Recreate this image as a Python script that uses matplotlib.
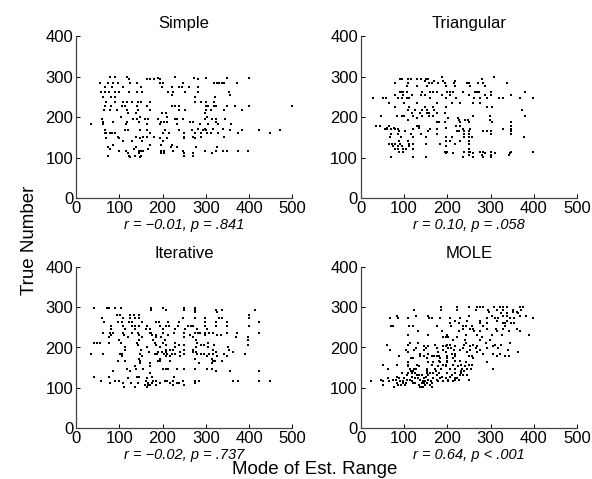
import matplotlib
matplotlib.use("Agg")
import matplotlib.pyplot as plt

plt.rcParams['font.family'] = ['Liberation Sans', 'DejaVu Sans']

titles = ["Simple", "Triangular", "Iterative", "MOLE"]
stats = ["r = \u22120.01, p = .841", "r = 0.10, p = .058",
         "r = \u22120.02, p = .737", "r = 0.64, p < .001"]
x_ticks = [0, 100, 200, 300, 400, 500]
y_ticks = [0, 100, 200, 300, 400]

simple_pts = [
    (79,300),(90,300),(119,300),(189,297),(230,298),(273,296),(300,296),(350,296),(400,297),
    (122,293),(164,293),(170,293),(180,293),(194,293),(281,293),
    (55,283),(75,283),(85,283),(96,283),(125,283),(140,283),(195,283),(200,283),(248,283),
    (319,283),(325,283),(331,283),(337,283),(343,283),(373,283),
    (68,275),(84,275),(109,275),(150,275),(199,275),(222,275),(238,275),(244,275),(262,275),(282,275),
    (57,263),(67,263),(77,263),(90,263),(100,263),(123,263),(140,263),(152,263),(212,263),(225,263),
    (251,263),(282,263),(354,263),
    (223,255),(356,255),
    (63,250),(82,250),(89,250),(276,250),(322,250),
    (69,238),(90,238),(109,238),(119,238),(129,238),(143,238),(150,238),(171,238),(274,238),(290,238),
    (300,238),(318,238),
    (66,227),(81,227),(107,227),(114,227),(140,227),(165,227),(222,227),(230,227),(237,227),(300,227),
    (306,227),(319,227),(323,227),(350,227),(368,227),(400,227),(500,227),
    (64,218),(79,218),(94,218),(119,218),(143,218),(171,218),(237,218),(253,218),(300,218),(312,218),
    (343,218),(384,218),
    (120,210),(139,210),(198,210),(207,210),(298,210),
    (103,200),(148,200),(210,200),(302,200),
    (61,195),(131,195),(141,195),(160,195),(167,195),(189,195),(228,195),(233,195),(248,195),(299,195),
    (314,195),(324,195),(344,195),
    (63,189),(86,189),(119,189),(146,189),(196,189),(203,189),(210,189),(263,189),(271,189),(323,189),
    (34,182),(62,182),(115,182),(163,182),(194,182),(234,182),(286,182),(304,182),(329,182),(359,182),
    (283,172),(298,172),(317,172),(340,172),
    (66,168),(114,168),(121,168),(147,168),(164,168),(206,168),(237,168),(267,168),(294,168),(300,168),
    (355,168),(384,168),(423,168),(472,168),
    (66,160),(69,160),(79,160),(84,160),(90,160),(172,160),(201,160),(215,160),(250,160),(275,160),
    (289,160),(303,160),(313,160),(328,160),(374,160),(449,160),
    (98,152),(139,152),(154,152),(163,152),(181,152),(250,152),(271,152),(290,152),(343,152),
    (69,148),(100,148),(148,148),(194,148),(210,148),(250,148),(275,148),
    (108,140),(129,140),(153,140),(200,140),
    (86,131),(171,131),(196,131),(223,131),
    (75,127),(138,127),(219,127),(234,127),(277,127),(327,127),
    (79,121),(135,121),(166,121),
    (99,117),(115,117),(145,117),(150,117),(156,117),(196,117),(203,117),(225,117),(248,117),(299,117),
    (323,117),(340,117),(348,117),(374,117),(398,117),
    (121,111),(145,111),(196,111),(203,111),(250,111),(270,111),(314,111),
    (75,105),(123,105),(136,105),(150,105),(250,105),(271,105),
    (125,101),(148,101),
]

triangular_pts = [
    (188,300),(308,300),
    (91,295),(95,295),(110,295),(115,295),(129,295),(139,295),(151,295),(155,295),(279,295),
    (148,290),(170,290),(191,290),(218,290),
    (79,283),(110,283),(158,283),(165,283),(179,283),(194,283),(216,283),(245,283),(251,283),
    (270,283),(283,283),(338,283),
    (108,276),(129,276),(152,276),(196,276),(218,276),(252,276),(288,276),
    (91,263),(95,263),(98,263),(108,263),(142,263),(160,263),(168,263),(177,263),(200,263),(207,263),
    (214,263),(237,263),(264,263),(269,263),(274,263),(300,263),(379,263),
    (79,255),(97,255),(118,255),(140,255),(148,255),(187,255),(205,255),(249,255),(288,255),(300,255),
    (348,255),
    (29,247),(51,247),(58,247),(87,247),(95,247),(106,247),(112,247),(160,247),(197,247),(220,247),
    (262,247),(275,247),(291,247),(320,247),(329,247),(368,247),(398,247),
    (65,236),(101,236),(129,236),(175,236),(210,236),(229,236),(259,236),(275,236),
    (79,226),(111,226),(148,226),(168,226),(196,226),(291,226),(302,226),
    (110,218),(126,218),(141,218),(152,218),(170,218),(372,218),
    (118,210),(137,210),(152,210),(158,210),(175,210),(194,210),
    (46,203),(83,203),(95,203),(100,203),(120,203),(141,203),(158,203),(168,203),(260,203),(298,203),
    (379,203),
    (129,198),(201,198),(225,198),
    (110,192),(227,192),(240,192),(247,192),(298,192),
    (175,187),(181,187),(194,187),(229,187),(249,187),(302,187),(348,187),
    (35,178),(45,178),(66,178),(131,178),(135,178),(220,178),(229,178),(348,178),
    (60,174),(77,174),(135,174),(196,174),
    (56,170),(61,170),(69,170),(79,170),(87,170),(120,170),(160,170),(175,170),(237,170),(252,170),
    (329,170),(348,170),
    (89,166),(102,166),(155,166),(222,166),(228,166),(238,166),(249,166),(283,166),(291,166),(300,166),
    (348,166),
    (69,158),(85,158),(117,158),(139,158),(175,158),(238,158),(249,158),(300,158),(348,158),
    (68,150),(93,150),(120,150),(151,150),(196,150),(210,150),(238,150),(249,150),(258,150),(377,150),
    (89,142),(110,142),(196,142),(206,142),(229,142),(249,142),
    (65,134),(72,134),(79,134),(91,134),(112,134),(120,134),(151,134),(183,134),(218,134),(249,134),
    (75,128),(87,128),(95,128),(112,128),(196,128),
    (79,122),(85,122),(98,122),(105,122),(120,122),(249,122),
    (89,115),(98,115),(194,115),(200,115),(238,115),(249,115),(253,115),(275,115),(283,115),(300,115),
    (348,115),(398,115),
    (196,111),(214,111),(260,111),(287,111),(310,111),(344,111),
    (249,107),(279,107),(300,107),(343,107),
    (69,102),(120,102),(150,102),(237,102),(260,102),(283,102),(300,102),
]

iterative_pts = [
    (42,298),(71,298),(77,298),(90,298),(104,298),(174,298),(200,298),(250,298),(275,298),
    (174,293),(209,293),(250,293),(275,293),(323,293),(338,293),(414,293),
    (275,288),(327,288),
    (94,280),(102,280),(125,280),(133,280),(145,280),(399,280),
    (59,273),(109,273),(125,273),(137,273),(145,273),(248,273),(275,273),(299,273),(331,273),(337,273),
    (399,273),
    (65,263),(98,263),(106,263),(123,263),(129,263),(152,263),(186,263),(191,263),(213,263),(238,263),
    (299,263),(323,263),(348,263),(424,263),
    (82,253),(109,253),(129,253),(137,253),(145,253),(165,253),(194,253),(208,253),(215,253),(236,253),
    (260,253),(265,253),(271,253),(299,253),(323,253),(348,253),(399,253),
    (80,247),(113,247),(137,247),(162,247),(171,247),(200,247),(229,247),(252,247),(279,247),(302,247),
    (62,237),(79,237),(86,237),(109,237),(129,237),(144,237),(170,237),(173,237),(202,237),(227,237),
    (250,237),(275,237),(281,237),(287,237),(299,237),(307,237),(317,237),(348,237),(373,237),(424,237),
    (81,230),(111,230),(145,230),(175,230),(185,230),(213,230),(263,230),(299,230),(325,230),(335,230),
    (77,225),(121,225),(152,225),(186,225),(196,225),(250,225),(271,225),(371,225),(398,225),
    (100,218),(146,218),(179,218),(206,218),(277,218),(398,218),
    (41,212),(48,212),(55,212),(77,212),(103,212),(140,212),(183,212),(202,212),(228,212),(279,212),
    (306,212),
    (144,206),(186,206),(208,206),(238,206),(250,206),(290,206),(296,206),(320,206),(398,206),
    (114,200),(165,200),(194,200),(228,200),(277,200),(306,200),(352,200),
    (113,193),(150,193),(208,193),(217,193),(225,193),(250,193),(271,193),(317,193),(354,193),
    (168,188),(190,188),(198,188),(208,188),(240,188),(270,188),(277,188),(323,188),(362,188),
    (34,184),(63,184),(102,184),(107,184),(148,184),(182,184),(188,184),(204,184),(211,184),(221,184),
    (229,184),(250,184),(280,184),(290,184),(296,184),(307,184),(317,184),(343,184),(390,184),
    (107,178),(153,178),(208,178),(217,178),(240,178),(302,178),(325,178),(350,178),
    (145,172),(194,172),(275,172),(314,172),
    (98,167),(113,167),(148,167),(189,167),(194,167),(217,167),(316,167),(321,167),(338,167),
    (149,162),(170,162),(285,162),(314,162),
    (137,153),(170,153),
    (117,148),(139,148),(154,148),(200,148),(208,148),(213,148),(234,148),(250,148),(275,148),(302,148),
    (314,148),
    (86,142),(125,142),(323,142),(355,142),(424,142),
    (171,136),
    (42,128),(77,128),(140,128),(146,128),(175,128),(227,128),
    (121,124),(165,124),
    (57,116),(90,116),(100,116),(162,116),(177,116),(186,116),(206,116),(211,116),(225,116),(248,116),
    (275,116),(285,116),(364,116),(375,116),(424,116),(448,116),
    (79,111),(109,111),(126,111),(144,111),(167,111),(175,111),(194,111),(217,111),(234,111),(239,111),
    (275,111),
    (160,106),(167,106),(171,106),(186,106),(225,106),(250,106),
    (111,102),(137,102),(165,102),
]

mole_pts = [
    (185,300),(222,300),(249,300),(269,300),(275,300),(282,300),(308,300),(322,300),(329,300),(337,300),
    (368,300),(374,300),
    (123,294),(185,294),(222,294),(266,294),(295,294),(314,294),(329,294),(351,294),(371,294),
    (297,288),(352,288),(360,288),
    (325,285),(337,285),(364,285),
    (83,279),(128,279),(156,279),(249,279),(302,279),(329,279),(337,279),(368,279),(381,279),
    (68,273),(87,273),(110,273),(158,273),(164,273),(183,273),(206,273),(229,273),(291,273),(310,273),
    (318,273),(345,273),(354,273),(398,273),
    (218,266),(245,266),(275,266),(314,266),(337,266),
    (206,260),(228,260),(275,260),(292,260),(328,260),(333,260),(346,260),(355,260),
    (69,254),(75,254),(112,254),(120,254),(175,254),(208,254),(235,254),(243,254),(256,254),(283,254),
    (333,254),
    (237,247),(252,247),(260,247),(291,247),(312,247),(329,247),(360,247),
    (133,241),(188,241),(228,241),(262,241),(275,241),(314,241),(343,241),(368,241),
    (110,231),(156,231),(199,231),(243,231),(268,231),(302,231),(327,231),(389,231),
    (190,227),(196,227),(202,227),(222,227),(280,227),
    (214,218),(241,218),(275,218),(298,218),
    (114,212),(132,212),(243,212),(289,212),(345,212),
    (60,207),(110,207),(172,207),(199,207),(205,207),(238,207),(260,207),(310,207),(325,207),
    (145,203),(155,203),(190,203),(197,203),(218,203),(252,203),(268,203),(306,203),
    (128,198),(150,198),(175,198),(202,198),(208,198),(237,198),(266,198),(291,198),(318,198),
    (68,193),(105,193),(122,193),(146,193),(190,193),(215,193),(229,193),(252,193),(275,193),(341,193),
    (110,188),(179,188),(197,188),(245,188),(269,188),(364,188),
    (137,183),(156,183),(210,183),(218,183),(283,183),(306,183),(322,183),
    (89,180),(137,180),(145,180),(164,180),(170,180),(175,180),(180,180),(199,180),(218,180),(249,180),
    (258,180),(314,180),(333,180),(343,180),
    (115,173),(120,173),(152,173),(183,173),(200,173),(214,173),(260,173),
    (181,167),(200,167),(218,167),(229,167),
    (110,163),(156,163),(168,163),(183,163),(199,163),(243,163),(292,163),
    (52,157),(83,157),(110,157),(129,157),(164,157),(190,157),(197,157),(214,157),(231,157),(249,157),
    (256,157),
    (110,153),(135,153),(179,153),(197,153),(225,153),(241,153),
    (64,148),(114,148),(122,148),(127,148),(152,148),(172,148),(185,148),(205,148),(218,148),(233,148),
    (245,148),(254,148),(306,148),
    (115,142),(120,142),(152,142),(174,142),(231,142),(238,142),
    (95,136),(110,136),(118,136),(125,136),(152,136),(160,136),(168,136),(181,136),(199,136),(218,136),
    (231,136),
    (106,132),(129,132),(135,132),(142,132),(156,132),(175,132),(210,132),(229,132),(237,132),(245,132),
    (83,128),(118,128),(150,128),(187,128),(205,128),
    (64,124),(89,124),(99,124),(125,124),(132,124),(147,124),(168,124),(183,124),(197,124),(218,124),
    (223,124),
    (48,120),(75,120),(82,120),(106,120),(114,120),(137,120),(156,120),(175,120),(201,120),(218,120),
    (228,120),(249,120),
    (23,116),(51,116),(66,116),(91,116),(97,116),(118,116),(143,116),(148,116),(162,116),(179,116),
    (190,116),(202,116),(212,116),
    (83,111),(97,111),(105,111),(120,111),(125,111),(141,111),(145,111),(152,111),(165,111),
    (51,107),(87,107),(92,107),(103,107),(135,107),(148,107),(160,107),
    (78,103),(137,103),(143,103),(164,103),
    (141,101),
]

panels = [simple_pts, triangular_pts, iterative_pts, mole_pts]

W, H = 592, 479
fig = plt.figure(figsize=(W / 100, H / 100), dpi=100)
boxes = [
    (76, 36, 216.3, 162.3),
    (360.7, 36, 216.6, 162.3),
    (76, 266.7, 216.3, 161.6),
    (360.7, 266.7, 216.6, 161.6),
]

for i, (bx, by, bw, bh) in enumerate(boxes):
    ax = fig.add_axes([bx / W, 1 - (by + bh) / H, bw / W, bh / H])
    pts = panels[i]
    xs = [p[0] for p in pts]
    ys = [p[1] for p in pts]
    ax.scatter(xs, ys, s=2.6, c='black', marker='s', linewidths=0)
    ax.set_xlim(0, 500)
    ax.set_ylim(0, 400)
    ax.set_xticks(x_ticks)
    ax.set_yticks(y_ticks)
    ax.spines['top'].set_visible(False)
    ax.spines['right'].set_visible(False)
    for sp in ('left', 'bottom'):
        ax.spines[sp].set_linewidth(0.9)
        ax.spines[sp].set_color('#444444')
    ax.tick_params(direction='in', length=3, width=0.7, labelsize=12, pad=2,
                   colors='black')
    ax.set_title(titles[i], fontsize=12, pad=6)
    ax.text(0.5, -0.165, stats[i], transform=ax.transAxes, ha='center', va='center',
            fontsize=10.5, style='italic')

fig.text(30 / W, 1 - 240 / H, "True Number", rotation=90, ha='center', va='center',
         fontsize=13.5)
fig.text(315 / W, 1 - 469 / H, "Mode of Est. Range", ha='center', va='center',
         fontsize=13.5)

fig.savefig("out.png", dpi=100)
